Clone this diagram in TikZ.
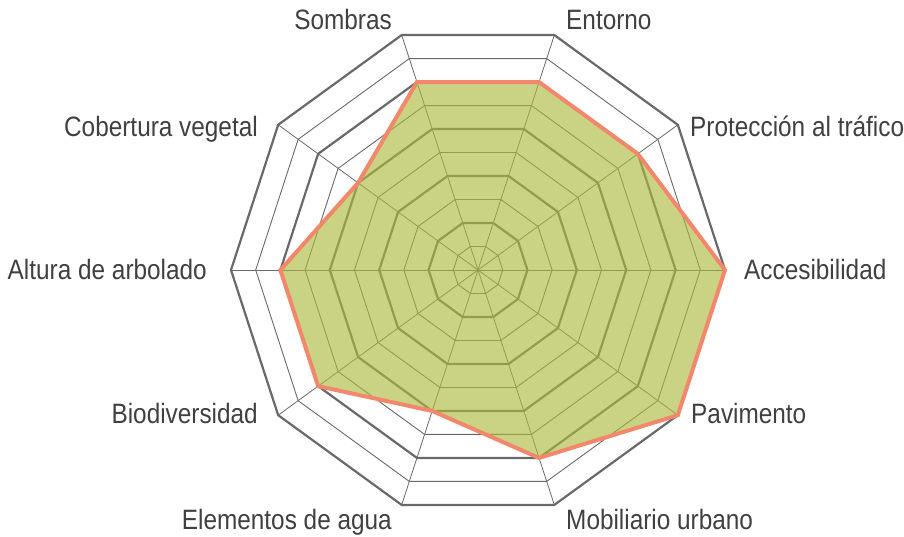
\documentclass[tikz,border=0pt]{standalone}
\usepackage{fontspec}
\setmainfont[FakeStretch=0.87]{Liberation Sans}
\definecolor{gridgray}{RGB}{105,105,105}
\definecolor{labelgray}{RGB}{64,64,64}
\definecolor{seriegreen}{RGB}{172,186,62}
\definecolor{serieorange}{RGB}{243,135,108}
\newlength{\du}
\setlength{\du}{1pt}

\tikzset{
  gridthin/.style={draw=gridgray, line width=0.9\du, line join=miter},
  gridthick/.style={draw=gridgray, line width=2.2\du, line join=miter},
  spoke/.style={draw=gridgray, line width=0.8\du},
  serie/.style={draw=serieorange, line width=4\du, line join=miter,
    fill=seriegreen, fill opacity=0.64},
  lbl/.style={text=labelgray, inner sep=0pt, font=\fontsize{28}{30}\selectfont}
}

\begin{document}
\begin{tikzpicture}
\useasboundingbox (0\du,0\du) rectangle (904\du,537\du);
\begin{scope}[shift={(478\du,267\du)}]
% rings
\foreach \lv in {1,...,10}{
  \pgfmathsetmacro{\rr}{\lv*24.7}
  \ifodd\lv
    \draw[gridthin] (0:\rr\du) \foreach \a in {36,72,...,324}{ -- (\a:\rr\du)} -- cycle;
  \else
    \draw[gridthick] (0:\rr\du) \foreach \a in {36,72,...,324}{ -- (\a:\rr\du)} -- cycle;
  \fi
}
% spokes
\coordinate (centro) at (0\du,0\du);
\foreach \a in {0,36,...,324}{
  \draw[spoke] (centro) -- (\a:247\du);
}
% data
\draw[serie] (0:247\du) -- (36:197.6\du) -- (72:197.6\du) -- (108:197.6\du)
  -- (144:148.2\du) -- (180:197.6\du) -- (216:197.6\du) -- (252:148.2\du)
  -- (288:197.6\du) -- (324:247\du) -- cycle;
\end{scope}
% labels
\node[lbl, anchor=base east] (sombras) at (392\du,507\du) {Sombras};
\node[lbl, anchor=base west] (entorno) at (566\du,507\du) {Entorno};
\node[lbl, anchor=base west] (proteccion) at (690\du,400\du) {Protección al tráfico};
\node[lbl, anchor=base west] (accesibilidad) at (744\du,257\du) {Accesibilidad};
\node[lbl, anchor=base west] (pavimento) at (691\du,113\du) {Pavimento};
\node[lbl, anchor=base west] (mobiliario) at (566\du,7\du) {Mobiliario urbano};
\node[lbl, anchor=base east] (agua) at (392\du,7\du) {Elementos de agua};
\node[lbl, anchor=base east] (biodiversidad) at (258\du,113\du) {Biodiversidad};
\node[lbl, anchor=base east] (altura) at (207\du,257\du) {Altura de arbolado};
\node[lbl, anchor=base east] (cobertura) at (258\du,400\du) {Cobertura vegetal};
\end{tikzpicture}
\end{document}
